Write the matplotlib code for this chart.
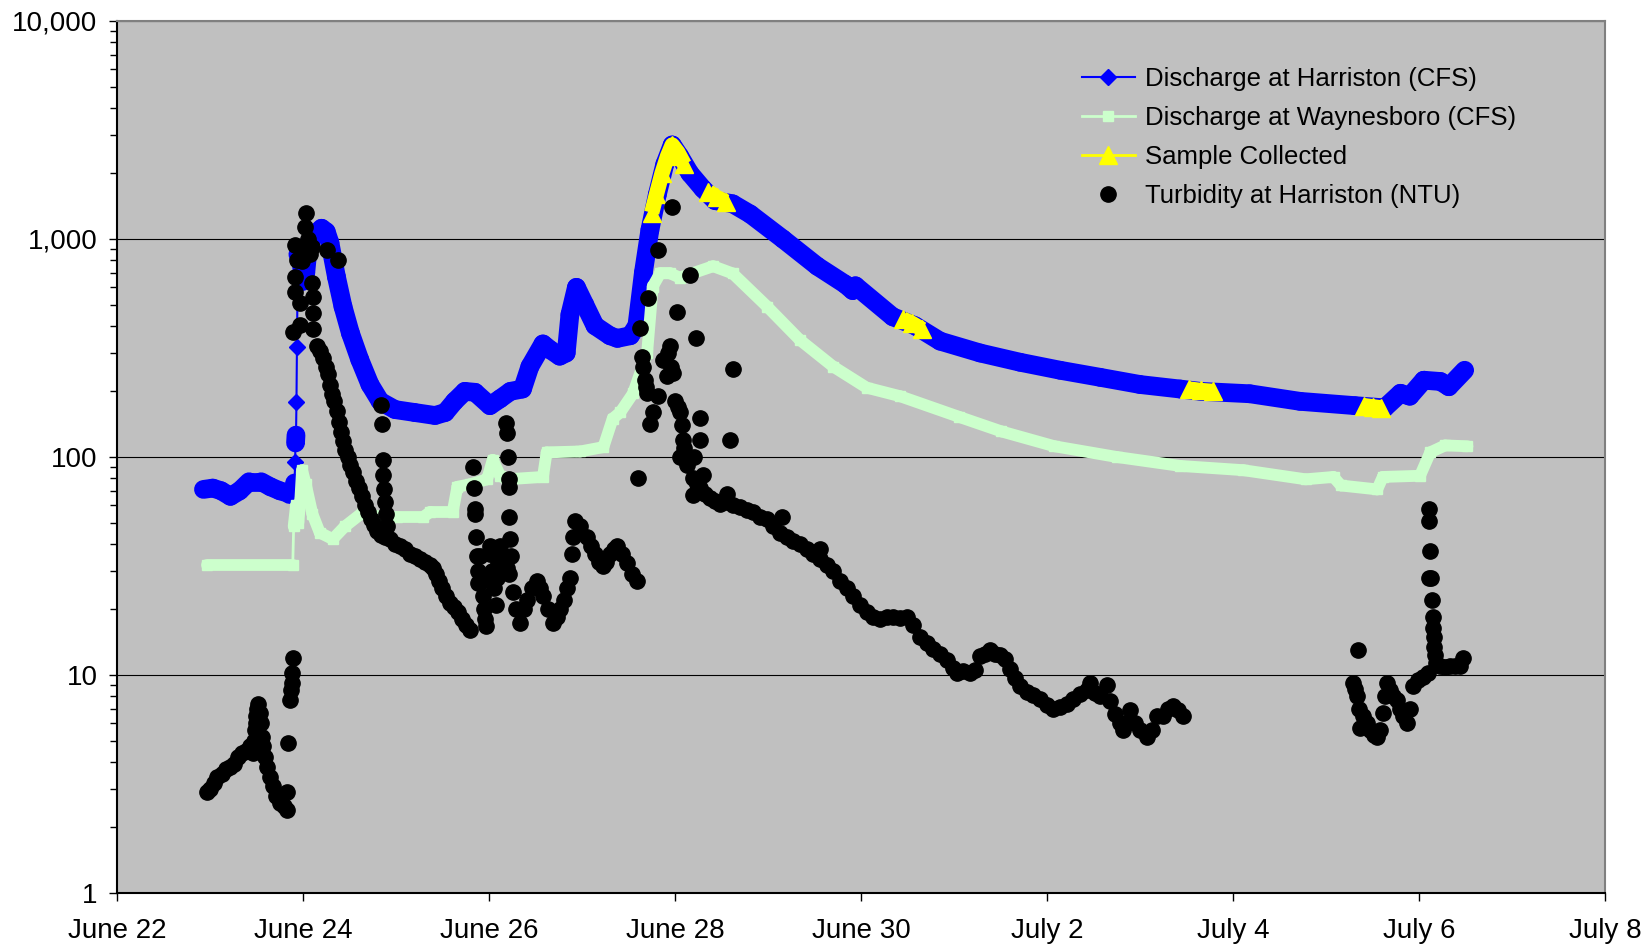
#!/bin/env python
import numpy as np
import matplotlib as mpl
mpl.use('Agg')  # no display
import matplotlib.pyplot as plt
from matplotlib.collections import LineCollection
from matplotlib.ticker import (FixedLocator, FuncFormatter, LogLocator,
                               NullFormatter, NullLocator)

plt.rcParams['font.family'] = ['Liberation Sans', 'DejaVu Sans']

# time is counted in days after June 22 00:00
tick_days = [0, 2, 4, 6, 8, 10, 12, 14, 16]
tick_labels = ['June 22', 'June 24', 'June 26', 'June 28', 'June 30',
               'July 2', 'July 4', 'July 6', 'July 8']

# Discharge at Harriston (CFS)
harr_days = [0.93, 1.03, 1.12, 1.22, 1.32, 1.42, 1.55, 1.65, 1.75, 1.85, 1.89,
             1.91, 1.915, 1.92, 1.925, 1.93, 1.935, 1.945,
             1.98, 2.00, 2.03, 2.06, 2.13, 2.20, 2.25, 2.29,
             2.36, 2.43, 2.51, 2.61, 2.72, 2.83, 2.99,
             3.20, 3.42, 3.53, 3.63, 3.74, 3.85,
             4.01, 4.12, 4.23, 4.36, 4.44, 4.58, 4.66, 4.76, 4.83, 4.87, 4.94,
             5.03, 5.14, 5.30, 5.38, 5.52, 5.59, 5.66, 5.73, 5.81, 5.89, 5.97,
             6.05, 6.16, 6.30, 6.43, 6.62, 6.81,
             7.16, 7.53, 7.83, 7.91, 7.94,
             8.34, 8.58, 8.85, 9.28, 9.71,
             10.14, 10.57, 11.00, 11.43, 11.65,
             12.18, 12.72, 13.31, 13.63, 13.80, 13.90,
             14.05, 14.23, 14.32, 14.49]
harr_cfs = [71, 72, 70, 66, 70, 77, 77, 73, 70, 68, 68,
            76, 95, 116, 126, 178, 320, 850,
            800, 640, 700, 950, 1050, 1120, 1080, 960,
            670, 490, 370, 280, 215, 180, 165,
            160, 155, 160, 180, 200, 198,
            172, 185, 200, 205, 260, 330, 310, 290, 300, 450, 600,
            500, 400, 360, 350, 360, 400, 700, 1100, 1600, 2200, 2700,
            2400, 2000, 1700, 1500, 1450, 1300,
            1000, 750, 620, 580, 610,
            440, 400, 340, 300, 272,
            250, 232, 215, 205, 200,
            195, 180, 172, 168, 196, 190,
            225, 222, 210, 250]

# Discharge at Waynesboro (CFS)
way_days = [0.97, 1.89, 1.90, 1.925, 1.95, 1.97, 1.99,
            2.03, 2.10, 2.18, 2.32, 2.45, 2.65, 2.83,
            3.01, 3.29, 3.37, 3.61, 3.66, 3.80, 3.98,
            4.04, 4.12, 4.19, 4.58, 4.62, 4.98,
            5.23, 5.33, 5.41, 5.55, 5.70, 5.76, 5.84, 5.95,
            6.05, 6.41, 6.62, 6.99,
            7.34, 7.70, 8.06, 8.42,
            9.05, 9.51, 10.08, 10.75, 11.43,
            12.11, 12.78, 13.08, 13.16, 13.55, 13.61,
            14.01, 14.12, 14.28, 14.52]
way_cfs = [32, 32, 48, 60, 50, 62, 87,
           75, 55, 45, 42, 48, 56, 53,
           53, 53, 56, 56, 73, 75, 79,
           97, 82, 79, 81, 105, 106,
           111, 150, 160, 196, 300, 605, 695, 695,
           665, 750, 695, 490,
           345, 260, 208, 190,
           153, 131, 112, 100, 91,
           87, 79, 81, 74, 71, 81,
           82, 105, 113, 112]

# Sample Collected, one list per sampling run (Harriston discharge)
sample_days = [[5.75, 5.80, 5.86, 5.92, 5.97, 6.03, 6.10],
               [6.36, 6.45, 6.55],
               [8.45, 8.55, 8.66],
               [11.53, 11.65, 11.78],
               [13.41, 13.50, 13.59]]
sample_cfs = [[1320, 1600, 2000, 2400, 2700, 2500, 2200],
              [1650, 1550, 1480],
              [430, 410, 385],
              [205, 202, 200],
              [172, 170, 168]]

# Turbidity at Harriston (NTU)
turb_days = [
    # June 23
    0.97, 1.00, 1.04, 1.08, 1.13, 1.17, 1.22, 1.26, 1.30, 1.34, 1.39, 1.43,
    1.46, 1.47, 1.48, 1.49, 1.50, 1.51, 1.52, 1.54, 1.55, 1.56, 1.57, 1.59,
    1.61, 1.65, 1.68, 1.71, 1.75, 1.80, 1.83, 1.83, 1.84, 1.86, 1.87, 1.88,
    1.88, 1.89,
    # first flood peak
    1.89, 1.91, 1.91, 1.91, 1.94, 1.97, 1.97, 1.99, 2.02, 2.02, 2.03, 2.05,
    2.08, 2.10, 2.10, 2.11, 2.11, 2.11, 2.26, 2.38,
    2.15, 2.18, 2.22, 2.25, 2.27, 2.29, 2.31, 2.33, 2.37, 2.39, 2.41, 2.43,
    2.45, 2.48, 2.51, 2.54, 2.57, 2.60, 2.63, 2.67, 2.70, 2.73, 2.76, 2.80,
    2.84, 2.88, 2.94, 2.99, 3.04, 3.10, 3.15, 3.20, 3.26, 3.31, 3.37, 3.40,
    3.43, 3.46, 3.49, 3.54, 3.58, 3.62, 3.67, 3.71, 3.75, 3.80,
    2.84, 2.85, 2.86, 2.86, 2.87, 2.88, 2.89, 2.90,
    # June 25 - 27
    3.83, 3.84, 3.85, 3.85, 3.86, 3.87, 3.88, 3.88,
    3.90, 3.93, 3.94, 3.95, 3.96, 3.97, 4.01, 4.01, 4.03, 4.05, 4.07, 4.09,
    4.10, 4.12, 4.17, 4.19, 4.22, 4.26, 4.29, 4.33, 4.38, 4.41, 4.46, 4.52,
    4.55, 4.58, 4.63, 4.69, 4.73, 4.76, 4.81, 4.84, 4.87, 4.89, 4.90, 4.92,
    4.98, 5.05, 5.10, 5.14, 5.18, 5.23, 5.26, 5.30, 5.34, 5.38, 5.43, 5.48,
    5.54, 5.59,
    4.18, 4.19, 4.20, 4.21, 4.22, 4.22, 4.23, 4.24,
    # second flood peak
    5.97, 5.82, 6.16, 5.71, 6.02, 5.62, 6.23, 5.65, 5.95, 5.87, 6.62, 5.68,
    5.91, 5.98, 5.70, 5.82, 6.00, 6.05, 5.76, 5.73, 6.27, 6.09, 6.27, 6.59,
    6.05, 6.20, 5.60, 5.66, 5.69, 5.93, 5.96, 6.03, 6.07, 6.10,
    6.13, 6.19, 6.24, 6.27, 6.32, 6.38, 6.43, 6.48, 6.56, 6.62, 6.70, 6.77,
    6.84, 6.91, 6.99, 7.05, 7.13, 7.20, 7.27, 7.34, 7.42, 7.48, 7.56, 7.63,
    7.70, 7.77, 7.85, 7.91, 7.99, 8.06, 8.13, 8.20, 8.28, 8.34, 8.42, 8.49,
    8.56, 8.63,
    6.30, 6.19, 6.56, 7.15, 7.56,
    # recession
    8.71, 8.77, 8.85, 8.92, 8.99, 9.03, 9.10, 9.17, 9.23, 9.28, 9.33, 9.39,
    9.44, 9.49, 9.55, 9.60, 9.66, 9.71, 9.78, 9.85, 9.92, 10.00, 10.06, 10.14,
    10.22, 10.28, 10.35, 10.43, 10.46, 10.52, 10.57, 10.65, 10.68, 10.73,
    10.78, 10.82, 10.86, 10.89, 10.95, 11.00, 11.08, 11.13, 11.18, 11.25,
    11.30, 11.35, 11.41, 11.46,
    # July 5 - 6
    13.29, 13.31, 13.33, 13.34, 13.35, 13.37, 13.40, 13.44, 13.47, 13.52,
    13.55, 13.58, 13.61, 13.63, 13.66, 13.69, 13.72, 13.76, 13.80, 13.83,
    13.87, 13.90, 13.94, 13.99, 14.04, 14.10, 14.11, 14.11, 14.12, 14.11,
    14.13, 14.14, 14.15, 14.15, 14.16, 14.16, 14.17, 14.18, 14.23, 14.28,
    14.33, 14.39, 14.44, 14.47]
turb_ntu = [
    2.9, 3.0, 3.2, 3.4, 3.5, 3.7, 3.8, 3.9, 4.2, 4.4, 4.5, 4.7,
    4.4, 5.0, 5.6, 6.0, 6.5, 7.0, 7.4, 6.7, 6.0, 5.2, 4.7, 4.2,
    3.8, 3.4, 3.1, 2.8, 2.6, 2.5, 2.4, 2.9, 4.9, 7.7, 8.5, 9.2,
    10.2, 12,
    376, 570, 670, 940, 800, 405, 510, 790, 920, 1140, 1320, 1000,
    850, 920, 630, 540, 460, 385, 890, 800,
    322, 305, 285, 260, 240, 215, 195, 180, 162, 145, 130, 118,
    108, 100, 92, 85, 78, 72, 66, 60, 56, 52, 49, 46,
    44, 43, 42, 40, 39, 38, 36, 35, 34, 33, 32, 31,
    29, 27, 25, 23, 21.5, 20.5, 19.5, 18, 17, 16,
    174, 141, 97, 83, 71, 62, 55, 48,
    90, 72, 58, 55, 43, 35, 30, 26.5,
    35, 27, 23, 20, 18, 16.7, 36, 39, 30, 25, 21, 28,
    33, 39, 34, 31, 29, 24, 20, 17.4, 20, 22, 25, 27,
    25, 23, 20, 17.4, 18.5, 20, 22, 25, 28, 36, 43, 51,
    48, 43, 39, 36, 33, 31.5, 33, 36, 38, 39, 36, 32.5,
    29, 27,
    143, 129, 100, 79, 73, 53, 42, 35,
    1405, 890, 686, 537, 464, 390, 351, 289, 322, 279, 252, 226,
    234, 243, 196, 190, 180, 160, 160, 141, 151, 120, 120, 120,
    100, 100, 80, 260, 210, 300, 260, 170, 140, 110,
    92, 80, 75, 72, 68, 65, 63, 61, 62, 60, 59, 57,
    56, 53, 52, 48, 45, 43, 41, 40, 38, 36, 34, 32,
    30, 27, 25, 23, 21, 19.5, 18.5, 18, 18.5, 18.5, 18.3, 18.5,
    17, 15,
    83, 67, 68, 53, 38,
    14, 13.2, 12.5, 11.7, 10.8, 10.2, 10.4, 10.2, 10.5, 12.2, 12.5, 13,
    12.5, 12.3, 11.8, 10.6, 9.7, 8.9, 8.4, 8.1, 7.8, 7.3, 7.0, 7.1,
    7.4, 7.8, 8.2, 8.5, 9.2, 8.3, 8.0, 9.0, 7.6, 6.6,
    6.0, 5.6, 6.0, 6.9, 6.0, 5.6, 5.2, 5.6, 6.5, 6.5,
    7.0, 7.2, 6.9, 6.5,
    9.2, 8.6, 8.0, 13, 7.0, 5.7, 6.5, 6.0, 5.6, 5.3,
    5.2, 5.6, 6.7, 8.0, 9.2, 8.5, 8.0, 7.7, 7.0, 6.5,
    6.0, 7.0, 8.9, 9.5, 9.8, 10.2, 58, 51, 37, 28,
    28, 22, 18.5, 16.5, 15, 13.5, 12.3, 11.3, 11, 10.9,
    11, 11, 11, 12]


def marker_band(ax, days, vals, color, width, z):
    # a dense run of markers reads as one thick band; sudden jumps
    # (steep in log units per day) are left as separate points
    d = np.asarray(days, float)
    v = np.asarray(vals, float)
    slope = np.abs(np.diff(np.log10(v))) / np.diff(d)
    segs = [[(d[i], v[i]), (d[i + 1], v[i + 1])]
            for i in range(len(d) - 1) if slope[i] < 8]
    ax.add_collection(LineCollection(segs, colors=color, linewidths=width,
                                     capstyle='round', zorder=z))


if __name__ == '__main__':

    fig = plt.figure(figsize=(16.52, 9.49), dpi=100)
    ax = fig.add_axes([0.0708, 0.059, 0.9008, 0.9189])
    ax.set_facecolor('#C0C0C0')
    ax.set_yscale('log')

    # discharge records
    marker_band(ax, harr_days, harr_cfs, '#0000FF', 13.5, 2)
    ax.plot(harr_days, harr_cfs, color='#0000FF', lw=1.5, marker='D', ms=8.5,
            label='Discharge at Harriston (CFS)', zorder=2)
    marker_band(ax, way_days, way_cfs, '#CCFFCC', 8.5, 3)
    ax.plot(way_days, way_cfs, color='#CCFFCC', lw=2, marker='s', ms=7,
            mec='#CCFFCC', label='Discharge at Waynesboro (CFS)', zorder=3)

    # sampling runs, broken apart with NaN
    s_days, s_cfs = [], []
    for d, v in zip(sample_days, sample_cfs):
        s_days += d + [np.nan]
        s_cfs += v + [np.nan]
    ax.plot(s_days, s_cfs, color='#FFFF00', lw=11, solid_capstyle='butt',
            zorder=4)
    ax.plot(s_days, s_cfs, color='#FFFF00', lw=2, marker='^', ms=13,
            label='Sample Collected', zorder=4)

    ax.plot(turb_days, turb_ntu, ls='none', marker='o', ms=11,
            color='black', label='Turbidity at Harriston (NTU)', zorder=5)

    ax.set_xlim(0, 16)
    ax.set_ylim(1, 10000)
    ax.set_xticks(tick_days)
    ax.set_xticklabels(tick_labels)
    ax.xaxis.set_minor_locator(NullLocator())
    ax.yaxis.set_major_locator(FixedLocator([1, 10, 100, 1000, 10000]))
    ax.yaxis.set_major_formatter(FuncFormatter(lambda v, p: '{:,.0f}'.format(v)))
    ax.yaxis.set_minor_locator(LogLocator(base=10, subs=np.arange(2, 10)))
    ax.yaxis.set_minor_formatter(NullFormatter())
    ax.tick_params(axis='both', which='major', direction='out', length=6,
                   width=1, labelsize=20, colors='black')
    ax.tick_params(axis='y', which='minor', direction='out', length=5, width=1)
    ax.tick_params(axis='x', pad=12)
    ax.tick_params(axis='y', pad=8)

    ax.yaxis.grid(True, which='major', color='black', linewidth=0.8)
    ax.set_axisbelow(True)

    for s in ['left', 'bottom']:
        ax.spines[s].set_color('black')
        ax.spines[s].set_linewidth(1.5)
    for s in ['top', 'right']:
        ax.spines[s].set_color('#808080')
        ax.spines[s].set_linewidth(1.5)

    ax.legend(loc='upper left', bbox_to_anchor=(0.6485, 0.947), frameon=False,
              fontsize=18.5, handlelength=2.05, handletextpad=0.4,
              labelspacing=0.58, borderpad=0, borderaxespad=0)

    fig.savefig('out.png', dpi=100)
